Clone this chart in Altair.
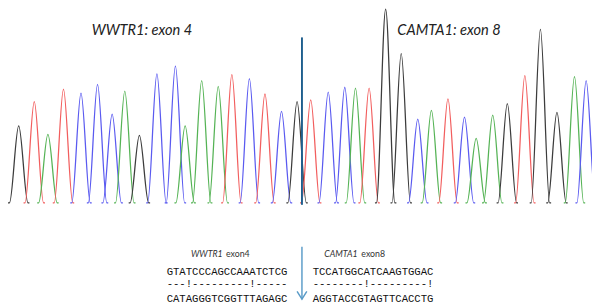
import altair as alt
import pandas as pd

# ---- data ----
# called bases (ABI colours: A green, C blue, G black, T red)
bases = list("GTATCCCAGCCAAATCTCG" + "TCCATGGCATCAAGTGGAC")
# peak positions (scan units ~ screen px) and peak heights (signal above baseline)
peak_x = [11, 27, 41, 57, 75, 92, 107, 120, 135, 153, 172, 182, 199, 216, 230, 248, 264, 281, 297,
          311, 329, 346, 357, 371, 388, 404, 421, 435, 452, 469, 481, 498, 513, 531, 547, 564, 582, 594]
peak_h = [80, 105, 71, 118, 114, 123, 92, 116, 70, 134, 142, 80, 127, 121, 133, 129, 113, 95, 105,
          107, 115, 120, 119, 119, 201, 155, 87, 96, 108, 89, 67, 91, 103, 132, 180, 94, 131, 127]
junction_x = 302

base_names = ["A", "C", "G", "T"]
base_colors = ["#55b355", "#5a5af0", "#3c3c3c", "#f25e5e"]

left_label = ["WWTR1", "exon4"]
right_label = ["CAMTA1", "exon8"]
left_seq = ["GTATCCCAGCCAAATCTCG", "---!---------!-----", "CATAGGGTCGGTTTAGAGC"]
right_seq = ["TCCATGGCATCAAGTGGAC", "--------!---------!", "AGGTACCGTAGTTCACCTG"]
titles = ["WWTR1: exon 4", "CAMTA1: exon 8"]

# ---- build trace table: each peak rises from and returns to the baseline ----
HW = 9.5   # half base width of a peak
EXT = 1.5  # short flat foot either side
rows = []
for i, (b, x, h) in enumerate(zip(bases, peak_x, peak_h)):
    for dx, y in [(-HW - EXT, 0), (-HW, 0), (0, h), (HW, 0), (HW + EXT, 0)]:
        rows.append({"peak": i, "base": b, "x": x + dx, "signal": y})
df = pd.DataFrame(rows)

xs = alt.Scale(domain=[0, 600], nice=False, zero=False)
ys = alt.Scale(domain=[-112.1, 198], nice=False, zero=False)

trace = alt.Chart(df).mark_line(interpolate="monotone", strokeWidth=1.3, clip=False).encode(
    x=alt.X("x:Q", scale=xs, axis=None),
    y=alt.Y("signal:Q", scale=ys, axis=None),
    color=alt.Color("base:N", scale=alt.Scale(domain=base_names, range=base_colors), legend=None),
    detail="peak:N",
)

junction = alt.Chart(pd.DataFrame({"x": [junction_x]})).mark_rule(
    color="#1f5f8e", strokeWidth=2
).encode(x=alt.X("x:Q", scale=xs), y=alt.value(26), y2=alt.value(198))


def text(t, x, y, **kw):
    return alt.Chart(pd.DataFrame({"t": [t]})).mark_text(
        align="left", baseline="alphabetic", **kw
    ).encode(x=alt.value(x), y=alt.value(y), text="t:N")


layers = [trace, junction]
layers.append(text(titles[0], 86, 24, font="Lato", fontSize=15, fontStyle="italic", color="#222222"))
layers.append(text(titles[1], 400, 24, font="Lato", fontSize=15, fontStyle="italic", color="#222222"))

# small labels above the sequences
layers.append(text(left_label[0], 188, 252, font="Lato", fontSize=9, fontStyle="italic", color="#333333"))
layers.append(text(left_label[1], 224, 252, font="Lato", fontSize=9, color="#333333"))
layers.append(text(right_label[0], 325, 252, font="Lato", fontSize=9, fontStyle="italic", color="#333333"))
layers.append(text(right_label[1], 363, 252, font="Lato", fontSize=9, color="#333333"))

seq_y = [270, 282, 298]
for s, yy in zip(left_seq, seq_y):
    layers.append(text(s, 163, yy, font="Liberation Mono", fontSize=10.9, color="#111111"))
for s, yy in zip(right_seq, seq_y):
    layers.append(text(s, 313, yy, font="Liberation Mono", fontSize=10.9, color="#111111"))

# arrow
arrow_c = "#5b9cc8"
layers.append(
    alt.Chart(pd.DataFrame({"x": [junction_x]})).mark_rule(color=arrow_c, strokeWidth=1.5)
    .encode(x=alt.X("x:Q", scale=xs), y=alt.value(241), y2=alt.value(295))
)
layers.append(
    alt.Chart(pd.DataFrame({"x": [junction_x]})).mark_point(
        shape="M -1 -0.8 L 0 0.8 L 1 -0.8", size=100, filled=False,
        color=arrow_c, strokeWidth=1.5, opacity=1
    ).encode(x=alt.X("x:Q", scale=xs), y=alt.value(291))
)

chart = alt.layer(*layers).properties(
    width=600, height=307, padding=0, autosize=alt.AutoSizeParams(type="none"),
    background="white"
).configure_view(stroke=None)

chart.save("out.html", embed_options={"renderer": "svg", "actions": False})
